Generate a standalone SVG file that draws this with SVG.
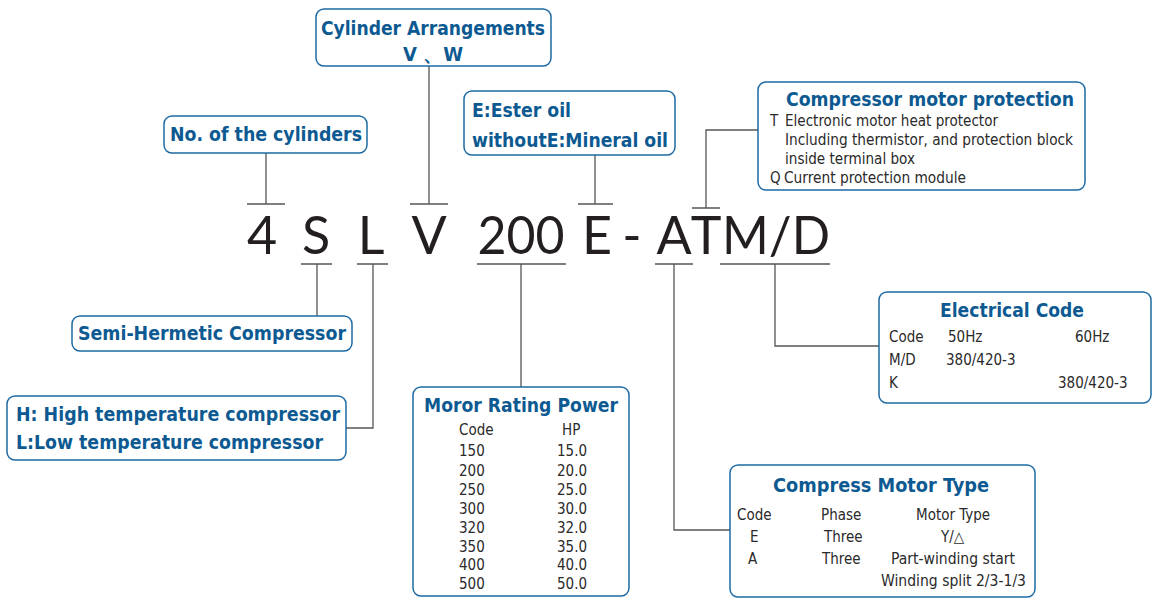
<svg xmlns="http://www.w3.org/2000/svg" width="1152" height="598" viewBox="0 0 1152 598">
<style>
.box{fill:#fff;stroke:#1d6aa5;stroke-width:1.5}
.t{font-family:"DejaVu Sans Condensed","DejaVu Sans",sans-serif;font-weight:bold;font-size:20px;fill:#0d5a92}
.b{font-family:"DejaVu Sans Condensed","DejaVu Sans",sans-serif;font-size:15px;fill:#2a2a2a}
.big{font-family:Lato,"Open Sans",sans-serif;font-weight:400;font-size:52px;fill:#231f20;text-anchor:middle}
.ln{fill:none;stroke:#555;stroke-width:1.3}
</style>
<rect width="1152" height="598" fill="#fff"/>
<g id="connectors">
<path class="ln" d="M266 153V204M247 204H285"/>
<path class="ln" d="M429 66V204M410 204H448"/>
<path class="ln" d="M595 155V204M578 204H613"/>
<path class="ln" d="M758 130H706V208M692 208H720"/>
<path class="ln" d="M301 264H332M317 264V316"/>
<path class="ln" d="M357 264H388M373 264V428H346"/>
<path class="ln" d="M477 264H566M521 264V387"/>
<path class="ln" d="M655 264H693M674 264V530H730"/>
<path class="ln" d="M720 264H830M775 264V346H879"/>
</g>
<g id="code">
<text class="big" x="262" y="254">4</text>
<text class="big" x="316" y="254">S</text>
<text class="big" x="371" y="254">L</text>
<text class="big" x="429" y="254">V</text>
<text class="big" x="521" y="254" textLength="87" lengthAdjust="spacingAndGlyphs">200</text>
<text class="big" x="597" y="254">E</text>
<text class="big" x="632" y="254">-</text>
<text class="big" x="674" y="254">A</text>
<text class="big" x="706" y="254">T</text>
<text class="big" x="776" y="254" textLength="108" lengthAdjust="spacingAndGlyphs">M/D</text>
</g>
<g id="cylinder-arrangements">
<rect class="box" x="316" y="9" width="235" height="57" rx="8"/>
<text class="t" x="433" y="35" text-anchor="middle" textLength="224" lengthAdjust="spacingAndGlyphs">Cylinder Arrangements</text>
<text class="t" x="433" y="61" text-anchor="middle">V 、W</text>
</g>
<g id="no-cylinders">
<rect class="box" x="164" y="116" width="203" height="37" rx="8"/>
<text class="t" x="266" y="141" text-anchor="middle" textLength="192" lengthAdjust="spacingAndGlyphs">No. of the cylinders</text>
</g>
<g id="oil">
<rect class="box" x="464" y="91" width="211" height="64" rx="8"/>
<text class="t" x="472" y="117" textLength="99" lengthAdjust="spacingAndGlyphs">E:Ester oil</text>
<text class="t" x="472" y="147" textLength="196" lengthAdjust="spacingAndGlyphs">withoutE:Mineral oil</text>
</g>
<g id="motor-protection">
<rect class="box" x="758" y="82" width="327" height="108" rx="8"/>
<text class="t" x="930" y="106" text-anchor="middle" textLength="288" lengthAdjust="spacingAndGlyphs">Compressor motor protection</text>
<text class="b" x="770" y="126">T</text>
<text class="b" x="785" y="126" textLength="213" lengthAdjust="spacingAndGlyphs">Electronic motor heat protector</text>
<text class="b" x="785" y="145" textLength="288" lengthAdjust="spacingAndGlyphs">Including thermistor, and protection block</text>
<text class="b" x="785" y="164" textLength="130" lengthAdjust="spacingAndGlyphs">inside terminal box</text>
<text class="b" x="770" y="183">Q</text>
<text class="b" x="784" y="183" textLength="182" lengthAdjust="spacingAndGlyphs">Current protection module</text>
</g>
<g id="semi-hermetic">
<rect class="box" x="72" y="316" width="280" height="35" rx="8"/>
<text class="t" x="78" y="340" textLength="268" lengthAdjust="spacingAndGlyphs">Semi-Hermetic Compressor</text>
</g>
<g id="temperature">
<rect class="box" x="7" y="396" width="339" height="64" rx="8"/>
<text class="t" x="16" y="421" textLength="324" lengthAdjust="spacingAndGlyphs">H: High temperature compressor</text>
<text class="t" x="16" y="449" textLength="307" lengthAdjust="spacingAndGlyphs">L:Low temperature compressor</text>
</g>
<g id="rating-power">
<rect class="box" x="413" y="387" width="216" height="209" rx="8"/>
<text class="t" x="521" y="412" text-anchor="middle" textLength="194" lengthAdjust="spacingAndGlyphs">Moror Rating Power</text>
<text class="b" x="459" y="435">Code</text><text class="b" x="562" y="435">HP</text>
<text class="b" x="459" y="456">150</text><text class="b" x="557" y="456">15.0</text>
<text class="b" x="459" y="476">200</text><text class="b" x="557" y="476">20.0</text>
<text class="b" x="459" y="495">250</text><text class="b" x="557" y="495">25.0</text>
<text class="b" x="459" y="514">300</text><text class="b" x="557" y="514">30.0</text>
<text class="b" x="459" y="533">320</text><text class="b" x="557" y="533">32.0</text>
<text class="b" x="459" y="552">350</text><text class="b" x="557" y="552">35.0</text>
<text class="b" x="459" y="570">400</text><text class="b" x="557" y="570">40.0</text>
<text class="b" x="459" y="589">500</text><text class="b" x="557" y="589">50.0</text>
</g>
<g id="motor-type">
<rect class="box" x="730" y="465" width="305" height="132" rx="8"/>
<text class="t" x="881" y="492" text-anchor="middle" textLength="216" lengthAdjust="spacingAndGlyphs">Compress Motor Type</text>
<text class="b" x="737" y="520">Code</text>
<text class="b" x="821" y="520">Phase</text>
<text class="b" x="916" y="520">Motor Type</text>
<text class="b" x="750" y="542">E</text>
<text class="b" x="824" y="542">Three</text>
<text class="b" x="941" y="542">Y/△</text>
<text class="b" x="748" y="564">A</text>
<text class="b" x="822" y="564">Three</text>
<text class="b" x="891" y="564" textLength="124" lengthAdjust="spacingAndGlyphs">Part-winding start</text>
<text class="b" x="881" y="586" textLength="145" lengthAdjust="spacingAndGlyphs">Winding split 2/3-1/3</text>
</g>
<g id="electrical-code">
<rect class="box" x="879" y="292" width="272" height="111" rx="8"/>
<text class="t" x="1012" y="317" text-anchor="middle" textLength="144" lengthAdjust="spacingAndGlyphs">Electrical Code</text>
<text class="b" x="889" y="342">Code</text>
<text class="b" x="948" y="342">50Hz</text>
<text class="b" x="1075" y="342">60Hz</text>
<text class="b" x="889" y="365">M/D</text>
<text class="b" x="946" y="365">380/420-3</text>
<text class="b" x="889" y="388">K</text>
<text class="b" x="1058" y="388">380/420-3</text>
</g>
</svg>
